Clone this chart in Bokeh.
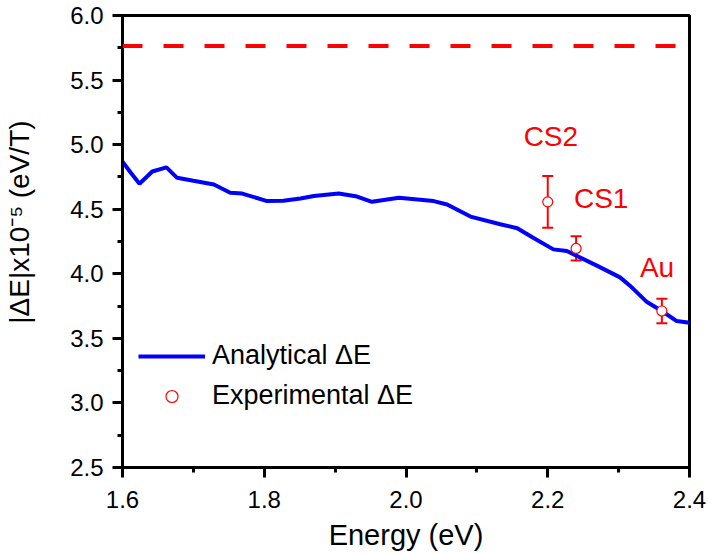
from bokeh.plotting import figure
from bokeh.models import (Range1d, FixedTicker, NumeralTickFormatter, Span, Whisker,
                          TeeHead, ColumnDataSource, Legend, LegendItem, Label)
from bokeh.embed import file_html
from bokeh.resources import INLINE

# ---- data ----
energy = [1.600, 1.612, 1.624, 1.642, 1.662, 1.677, 1.700, 1.729, 1.752, 1.769,
          1.804, 1.827, 1.851, 1.870, 1.905, 1.929, 1.952, 1.990, 2.039, 2.058,
          2.091, 2.133, 2.157, 2.180, 2.208, 2.227, 2.270, 2.302, 2.316, 2.340,
          2.361, 2.382, 2.400]
delta_e = [4.868, 4.780, 4.697, 4.792, 4.824, 4.743, 4.720, 4.692, 4.628, 4.621,
           4.563, 4.565, 4.583, 4.603, 4.621, 4.601, 4.557, 4.588, 4.563, 4.537,
           4.443, 4.384, 4.353, 4.277, 4.189, 4.176, 4.061, 3.972, 3.908, 3.781,
           3.712, 3.634, 3.621]

exp_energy = [2.200, 2.240, 2.361]
exp_delta = [4.557, 4.196, 3.712]
exp_err = [0.200, 0.094, 0.095]
exp_names = ["CS2", "CS1", "Au"]
name_x = [2.166, 2.237, 2.330]
name_y = [5.061, 4.580, 4.046]

limit_value = 5.763

x_ticks = [1.6, 1.8, 2.0, 2.2, 2.4]
x_minor = [1.7, 1.9, 2.1, 2.3]
y_ticks = [2.5, 3.0, 3.5, 4.0, 4.5, 5.0, 5.5, 6.0]
y_minor = [2.75, 3.25, 3.75, 4.25, 4.75, 5.25, 5.75]

x_title = "Energy (eV)"
y_title = "\u00a0" * 5 + "|\u0394E|x10\u207b\u2075 (eV/T)"

FONT = "Liberation Sans"

p = figure(width=708, height=553, output_backend="svg", toolbar_location=None,
           x_range=Range1d(1.6, 2.4), y_range=Range1d(2.5, 6.0),
           min_border_left=122, min_border_right=19, min_border_top=15,
           min_border_bottom=83)
p.grid.visible = False
p.outline_line_color = "black"
p.outline_line_width = 3
p.outline_line_alpha = 1.0

for ax, ticks, minor in ((p.xaxis[0], x_ticks, x_minor), (p.yaxis[0], y_ticks, y_minor)):
    ax.ticker = FixedTicker(ticks=ticks, minor_ticks=minor)
    ax.formatter = NumeralTickFormatter(format="0.0")
    ax.axis_line_width = 3
    ax.major_tick_line_width = 3
    ax.minor_tick_line_width = 3
    ax.major_tick_out = 10
    ax.major_tick_in = 0
    ax.minor_tick_out = 5
    ax.minor_tick_in = 0
    ax.major_label_text_font = FONT
    ax.major_label_text_font_size = "24px"
    ax.major_label_text_color = "black"
    ax.axis_label_text_font = FONT
    ax.axis_label_text_font_style = "normal"
    ax.axis_label_text_color = "black"

p.xaxis[0].major_label_standoff = 13
p.yaxis[0].major_label_standoff = 9
p.xaxis[0].axis_label = x_title
p.xaxis[0].axis_label_text_font_size = "29px"
p.xaxis[0].axis_label_standoff = 8
p.yaxis[0].axis_label = y_title
p.yaxis[0].axis_label_text_font_size = "28px"
p.yaxis[0].axis_label_standoff = 32

# dashed reference line
p.add_layout(Span(location=limit_value, dimension="width", line_color="#ff0000",
                  line_width=4, line_dash="20 21"))

# analytical curve
line_r = p.line(energy, delta_e, line_color="#0000ff", line_width=4)

# error bars
src = ColumnDataSource(dict(x=exp_energy, y=exp_delta,
                            upper=[v + e for v, e in zip(exp_delta, exp_err)],
                            lower=[v - e for v, e in zip(exp_delta, exp_err)]))
wh = Whisker(source=src, base="x", upper="upper", lower="lower", dimension="height",
             line_color="#ff0000", line_width=2,
             upper_head=TeeHead(size=11, line_color="#ff0000", line_width=2),
             lower_head=TeeHead(size=11, line_color="#ff0000", line_width=2))
wh.level = "underlay"
p.add_layout(wh)

pts_r = p.scatter("x", "y", source=src, marker="circle", size=10,
                  fill_color="white", line_color="#ff0000", line_width=1.2)

for nm, lx, ly in zip(exp_names, name_x, name_y):
    p.add_layout(Label(x=lx, y=ly, text=nm, text_color="#ff0000",
                       text_font=FONT, text_font_size="28px",
                       text_baseline="middle", text_align="left"))

legend = Legend(items=[LegendItem(label="Analytical \u0394E", renderers=[line_r]),
                       LegendItem(label="Experimental \u0394E", renderers=[pts_r])],
                location=(16, 56), orientation="vertical",
                border_line_color=None, background_fill_alpha=0.0,
                label_text_font=FONT, label_text_font_size="27px",
                label_text_color="black",
                glyph_width=67, glyph_height=30, label_height=30,
                label_standoff=7, spacing=9, padding=0, margin=0)
p.add_layout(legend)

open("out.html", "w").write(file_html(p, INLINE))
